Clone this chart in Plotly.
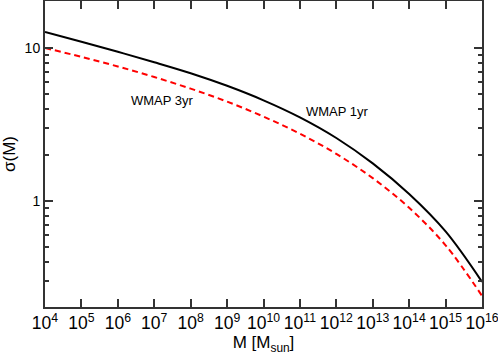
import plotly.graph_objects as go

# halo mass grid (log10 M / M_sun) and sigma(M)
log_mass = [4, 5, 6, 7, 8, 9, 10, 11, 12, 13, 14, 15, 16]
sigma_wmap1 = [12.74, 10.99, 9.44, 8.07, 6.84, 5.66, 4.55, 3.52, 2.58, 1.76, 1.11, 0.632, 0.296]
sigma_wmap3 = [10.0, 8.75, 7.57, 6.46, 5.42, 4.46, 3.56, 2.75, 2.03, 1.41, 0.902, 0.513, 0.240]

series_labels = ["WMAP 1yr", "WMAP 3yr"]
# label positions in axis units (log10 for both log axes)
label_pos = {"WMAP 1yr": (12.04, 0.587), "WMAP 3yr": (7.24, 0.659)}

mass = [10**m for m in log_mass]

fig = go.Figure()
fig.add_trace(go.Scatter(x=mass, y=sigma_wmap1, mode="lines", name=series_labels[0],
                         line=dict(color="black", width=2, shape="spline")))
fig.add_trace(go.Scatter(x=mass, y=sigma_wmap3, mode="lines", name=series_labels[1],
                         line=dict(color="#ff0000", width=2, dash="6px,4px", shape="spline")))

for lab in series_labels:
    x, y = label_pos[lab]
    fig.add_annotation(x=x, y=y, xref="x", yref="y", text=lab, showarrow=False,
                       font=dict(size=13, color="black"))

axis_common = dict(showline=True, linecolor="#333333", linewidth=2, mirror="ticks",
                   ticks="inside", ticklen=8, tickwidth=1.5, tickcolor="#333333",
                   showgrid=False, zeroline=False, automargin=False, tickangle=0,
                   ticklabeloverflow="allow", tickfont=dict(size=14, color="black"))

fig.update_xaxes(type="log", range=[4, 16], dtick=1, exponentformat="power",
                 title=dict(text="M [M<sub>sun</sub>]", font=dict(size=17, color="black"), standoff=2),
                 **axis_common)
fig.update_yaxes(type="log", range=[-0.693, 1.307], tickvals=[1, 10], ticktext=["1", "10"],
                 minor=dict(ticks="inside", ticklen=4, tickwidth=1.5, tickcolor="#333333",
                            tickvals=[0.3, 0.4, 0.5, 0.6, 0.7, 0.8, 0.9, 2, 3, 4, 5, 6, 7, 8, 9]),
                 title=dict(text="σ(M)", font=dict(size=17, color="black"), standoff=6),
                 **axis_common)

fig.update_layout(width=498, height=358, showlegend=False,
                  margin=dict(l=45, r=16, t=1, b=51),
                  plot_bgcolor="white", paper_bgcolor="white",
                  font=dict(family="Liberation Sans, Arial, sans-serif", color="black"))

# drop the browser's default body margin so the figure sits at the page corner
fig.write_html("out.html", config={"displayModeBar": False},
               post_script="document.body.style.margin='0';")
